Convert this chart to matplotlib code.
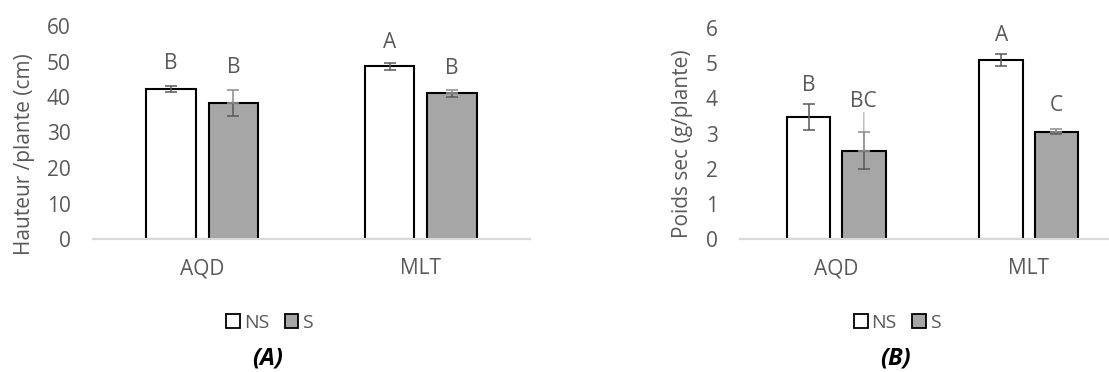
import numpy as np
import matplotlib
matplotlib.use("Agg")
import matplotlib.pyplot as plt
from matplotlib.patches import Patch

plt.rcParams["font.family"] = ["Open Sans", "DejaVu Sans"]

# data
categories = ["AQD", "MLT"]
series = ["NS", "S"]

height_ns = [42.3, 48.6]
height_ns_err = [0.8, 0.95]
height_s = [38.4, 41.0]
height_s_err = [3.7, 1.0]
height_letters = [["B", "A"], ["B", "B"]]

weight_ns = [3.47, 5.09]
weight_ns_err = [0.37, 0.16]
weight_s = [2.51, 3.05]
weight_s_err = [0.53, 0.07]
weight_letters = [["B", "A"], ["BC", "C"]]

GREY_TXT = "#595959"
FILLS = ["white", "#a6a6a6"]
W, H = 1109, 372
FS = 15


def panel(rect, ns, ns_err, s, s_err, letters, ymax, step, ylabel, label_xy,
          lab_off, leader):
    ax = fig.add_axes(rect)
    x = np.arange(len(categories))
    off, bw = 0.143, 0.226
    vals = [ns, s]
    errs = [ns_err, s_err]
    for k in range(2):
        xs = x + (2 * k - 1) * off
        ax.bar(xs, vals[k], width=bw, color=FILLS[k], edgecolor="black",
               linewidth=1.5, zorder=2)
        if k == 0:
            ax.errorbar(xs, vals[k], yerr=errs[k], fmt="none", ecolor=GREY_TXT,
                        elinewidth=1.1, capsize=4.3, capthick=1.1, zorder=3)
        else:
            # the upper half of the S error bars is drawn lighter in the original
            ax.errorbar(xs, vals[k], yerr=[errs[k], np.zeros(2)], fmt="none",
                        ecolor=GREY_TXT, elinewidth=1.1, capsize=4.3,
                        capthick=1.1, zorder=3)
            ax.errorbar(xs, vals[k], yerr=[np.zeros(2), errs[k]], fmt="none",
                        ecolor="#8c8c8c", elinewidth=1.1, capsize=4.3,
                        capthick=1.1, zorder=3)
        for i in range(len(categories)):
            ax.annotate(letters[k][i], (xs[i], vals[k][i]),
                        xytext=(0, lab_off[k][i] * 72 / 100), textcoords="offset points",
                        ha="center", va="center", fontsize=FS, color=GREY_TXT)
    if leader:
        i = 0
        xs = x[i] + off
        ax.annotate("", (xs, s[i]), xytext=(0, 38 * 72 / 100),
                    textcoords="offset points",
                    arrowprops=dict(arrowstyle="-", color="#bfbfbf", lw=1.1,
                                    shrinkA=0, shrinkB=0), zorder=2.5)
    ax.axhline(0, color="#d9d9d9", linewidth=1.6, zorder=4, clip_on=False)
    ax.set_xlim(-0.5, 1.5)
    ax.set_ylim(0, ymax)
    ax.set_yticks(np.arange(0, ymax + step / 2, step))
    ax.set_xticks(x)
    ax.set_xticklabels(categories)
    for sp in ax.spines.values():
        sp.set_visible(False)
    ax.tick_params(axis="both", length=0, labelsize=FS, labelcolor=GREY_TXT)
    ax.tick_params(axis="y", pad=16)
    ax.tick_params(axis="x", pad=14)
    ax.set_ylabel(ylabel, fontsize=FS, color=GREY_TXT)
    ax.yaxis.set_label_coords(*label_xy)
    return ax


fig = plt.figure(figsize=(W / 100, H / 100), dpi=100)

panel([93 / W, (H - 239) / H, 437 / W, 213 / H],
      height_ns, height_ns_err, height_s, height_s_err, height_letters,
      60, 10, "Hauteur /plante (cm)", (-0.133, 0.40),
      [[25, 24], [35, 25]], False)

panel([740 / W, (H - 239) / H, 385 / W, 211 / H],
      weight_ns, weight_ns_err, weight_s, weight_s_err, weight_letters,
      6, 1, "Poids sec (g/plante)", (-0.122, 0.45),
      [[31, 25], [49, 26]], True)

handles = [Patch(facecolor=c, edgecolor="black", linewidth=1.3) for c in FILLS]
for cx, tag in [(0.243, "(A)"), (0.809, "(B)")]:
    fig.legend(handles, series, loc="center", bbox_to_anchor=(cx, 0.132),
               ncol=2, frameon=False, fontsize=FS - 1, labelcolor=GREY_TXT,
               handlelength=0.7, handleheight=0.7, handletextpad=0.2,
               columnspacing=0.8)
    fig.text(cx - 0.002, 0.0376, tag, ha="center", va="center", fontsize=17,
             fontweight="bold", fontstyle="italic", color="black")

fig.savefig("out.png", dpi=100)
